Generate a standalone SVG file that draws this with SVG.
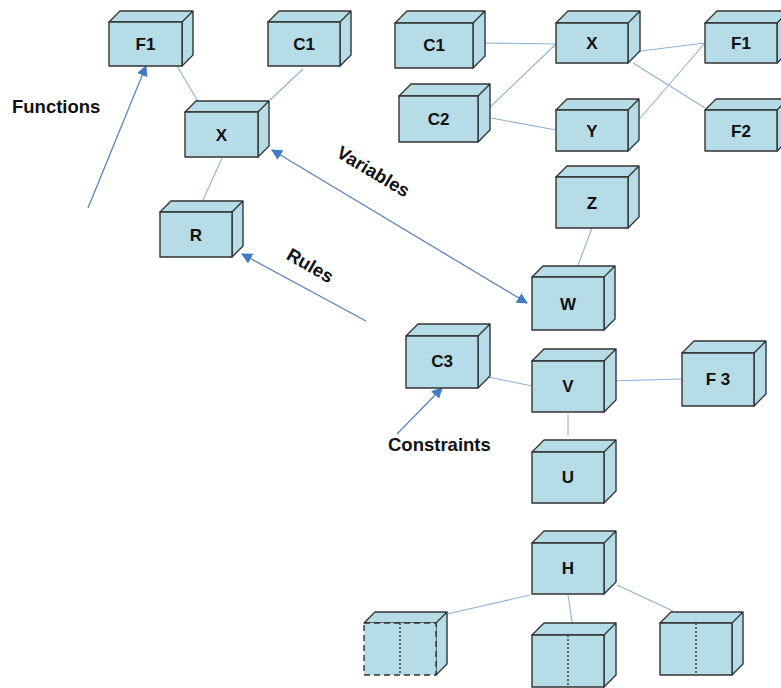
<svg xmlns="http://www.w3.org/2000/svg" width="781" height="688" viewBox="0 0 781 688">
<style>
.b{fill:#b5dce7;stroke:#333;stroke-width:1.4;stroke-linejoin:round}
.d{stroke-dasharray:6,4}
.dot{stroke:#333;stroke-width:1.4;stroke-dasharray:2,2;fill:none}
.t{font-family:"Liberation Sans",Arial,sans-serif;font-weight:bold;font-size:17px;fill:#111;text-anchor:middle}
.lb{font-family:"Liberation Sans",Arial,sans-serif;font-weight:bold;font-size:18.5px;fill:#111}
.c{stroke:#8fb1d6;stroke-width:1.1;fill:none}
.a{stroke:#5a86bf;stroke-width:1.3;fill:none}
</style>
<defs>
<marker id="ah" viewBox="0 0 10 10" refX="9" refY="5" markerWidth="11" markerHeight="11" markerUnits="userSpaceOnUse" orient="auto-start-reverse">
<path d="M0,0 L10,5 L0,10 Z" fill="#3f7cc4"/>
</marker>
</defs>
<rect width="781" height="688" fill="#fff"/>
<g id="connectors">
<line class="c" x1="177" y1="66" x2="203" y2="110"/>
<line class="c" x1="303" y1="69" x2="270" y2="100"/>
<line class="c" x1="222" y1="158" x2="203" y2="200"/>
<line class="c" x1="485" y1="43" x2="556" y2="44"/>
<line class="c" x1="484" y1="113" x2="556" y2="44"/>
<line class="c" x1="491" y1="118" x2="556" y2="130"/>
<line class="c" x1="633" y1="52" x2="705" y2="43"/>
<line class="c" x1="633" y1="63" x2="705" y2="108"/>
<line class="c" x1="635" y1="124" x2="705" y2="43"/>
<line class="c" x1="592" y1="228" x2="574" y2="276"/>
<line class="c" x1="464" y1="372" x2="532" y2="386"/>
<line class="c" x1="608" y1="381" x2="682" y2="379"/>
<line class="c" x1="568" y1="414" x2="568" y2="436"/>
<line class="c" x1="530" y1="595" x2="447" y2="614"/>
<line class="c" x1="568" y1="595" x2="573" y2="628"/>
<line class="c" x1="617" y1="585" x2="673" y2="611"/>
<line class="a" x1="88" y1="208" x2="146" y2="66" marker-end="url(#ah)"/>
<line class="a" x1="272" y1="150" x2="527" y2="303" marker-start="url(#ah)" marker-end="url(#ah)"/>
<line class="a" x1="366" y1="321" x2="242" y2="254" marker-end="url(#ah)"/>
<line class="a" x1="397" y1="434" x2="442" y2="388" marker-end="url(#ah)"/>
</g>
<g id="labels">
<text class="lb" x="12" y="113">Functions</text>
<text class="lb" x="370" y="177" text-anchor="middle" transform="rotate(31 370 177)">Variables</text>
<text class="lb" x="307" y="271" text-anchor="middle" transform="rotate(30 307 271)">Rules</text>
<text class="lb" x="388" y="451">Constraints</text>
</g>
<g id="F1a">
<path class="b" d="M109,22 L120,11 L193,11 L182,22 Z M182,22 L193,11 L193,55 L182,66 Z"/>
<rect class="b" x="109" y="22" width="73" height="44"/>
<text class="t" x="145.5" y="50">F1</text>
</g>
<g id="C1a">
<path class="b" d="M268,22 L279,11 L351,11 L340,22 Z M340,22 L351,11 L351,55 L340,66 Z"/>
<rect class="b" x="268" y="22" width="72" height="44"/>
<text class="t" x="304" y="50">C1</text>
</g>
<g id="Xa">
<path class="b" d="M185,112 L196,101 L269,101 L258,112 Z M258,112 L269,101 L269,146 L258,157 Z"/>
<rect class="b" x="185" y="112" width="73" height="45"/>
<text class="t" x="221.5" y="141">X</text>
</g>
<g id="R">
<path class="b" d="M160,212 L171,201 L243,201 L232,212 Z M232,212 L243,201 L243,246 L232,257 Z"/>
<rect class="b" x="160" y="212" width="72" height="45"/>
<text class="t" x="196" y="241">R</text>
</g>
<g id="C1b">
<path class="b" d="M395,23 L407,11 L485,11 L473,23 Z M473,23 L485,11 L485,56 L473,68 Z"/>
<rect class="b" x="395" y="23" width="78" height="45"/>
<text class="t" x="434" y="51">C1</text>
</g>
<g id="Xb">
<path class="b" d="M556,23 L568,11 L640,11 L628,23 Z M628,23 L640,11 L640,51 L628,63 Z"/>
<rect class="b" x="556" y="23" width="72" height="40"/>
<text class="t" x="592" y="49">X</text>
</g>
<g id="F1b">
<path class="b" d="M705,23 L717,11 L789,11 L777,23 Z M777,23 L789,11 L789,51 L777,63 Z"/>
<rect class="b" x="705" y="23" width="72" height="40"/>
<text class="t" x="741" y="49">F1</text>
</g>
<g id="C2">
<path class="b" d="M399,96 L411,84 L490,84 L478,96 Z M478,96 L490,84 L490,130 L478,142 Z"/>
<rect class="b" x="399" y="96" width="79" height="46"/>
<text class="t" x="438.5" y="125">C2</text>
</g>
<g id="Y">
<path class="b" d="M556,110 L567,99 L639,99 L628,110 Z M628,110 L639,99 L639,140 L628,151 Z"/>
<rect class="b" x="556" y="110" width="72" height="41"/>
<text class="t" x="592" y="137">Y</text>
</g>
<g id="F2">
<path class="b" d="M705,110 L716,99 L788,99 L777,110 Z M777,110 L788,99 L788,140 L777,151 Z"/>
<rect class="b" x="705" y="110" width="72" height="41"/>
<text class="t" x="741" y="137">F2</text>
</g>
<g id="Z">
<path class="b" d="M556,177 L567,166 L639,166 L628,177 Z M628,177 L639,166 L639,217 L628,228 Z"/>
<rect class="b" x="556" y="177" width="72" height="51"/>
<text class="t" x="592" y="209">Z</text>
</g>
<g id="W">
<path class="b" d="M532,277 L543,266 L615,266 L604,277 Z M604,277 L615,266 L615,319 L604,330 Z"/>
<rect class="b" x="532" y="277" width="72" height="53"/>
<text class="t" x="568" y="310">W</text>
</g>
<g id="C3">
<path class="b" d="M406,336 L418,324 L490,324 L478,336 Z M478,336 L490,324 L490,376 L478,388 Z"/>
<rect class="b" x="406" y="336" width="72" height="52"/>
<text class="t" x="442" y="367">C3</text>
</g>
<g id="V">
<path class="b" d="M532,361 L544,349 L616,349 L604,361 Z M604,361 L616,349 L616,400 L604,412 Z"/>
<rect class="b" x="532" y="361" width="72" height="51"/>
<text class="t" x="568" y="392">V</text>
</g>
<g id="F3">
<path class="b" d="M682,353 L694,341 L766,341 L754,353 Z M754,353 L766,341 L766,394 L754,406 Z"/>
<rect class="b" x="682" y="353" width="72" height="53"/>
<text class="t" x="718" y="385">F 3</text>
</g>
<g id="U">
<path class="b" d="M532,452 L544,440 L616,440 L604,452 Z M604,452 L616,440 L616,491 L604,503 Z"/>
<rect class="b" x="532" y="452" width="72" height="51"/>
<text class="t" x="568" y="483">U</text>
</g>
<g id="H">
<path class="b" d="M532,543 L544,531 L616,531 L604,543 Z M604,543 L616,531 L616,582 L604,594 Z"/>
<rect class="b" x="532" y="543" width="72" height="51"/>
<text class="t" x="568" y="574">H</text>
</g>
<g id="B1">
<path class="b" d="M364,623 L375,612 L447,612 L436,623 Z M436,623 L447,612 L447,664 L436,675 Z"/>
<rect class="b d" x="364" y="623" width="72" height="52"/>
<line class="dot" x1="400" y1="623" x2="400" y2="675"/>
</g>
<g id="B2">
<path class="b" d="M532,635 L544,623 L616,623 L604,635 Z M604,635 L616,623 L616,675 L604,687 Z"/>
<rect class="b" x="532" y="635" width="72" height="52"/>
<line class="dot" x1="568" y1="635" x2="568" y2="687"/>
</g>
<g id="B3">
<path class="b" d="M660,623 L671,612 L743,612 L732,623 Z M732,623 L743,612 L743,664 L732,675 Z"/>
<rect class="b" x="660" y="623" width="72" height="52"/>
<line class="dot" x1="696" y1="623" x2="696" y2="675"/>
</g>
</svg>
